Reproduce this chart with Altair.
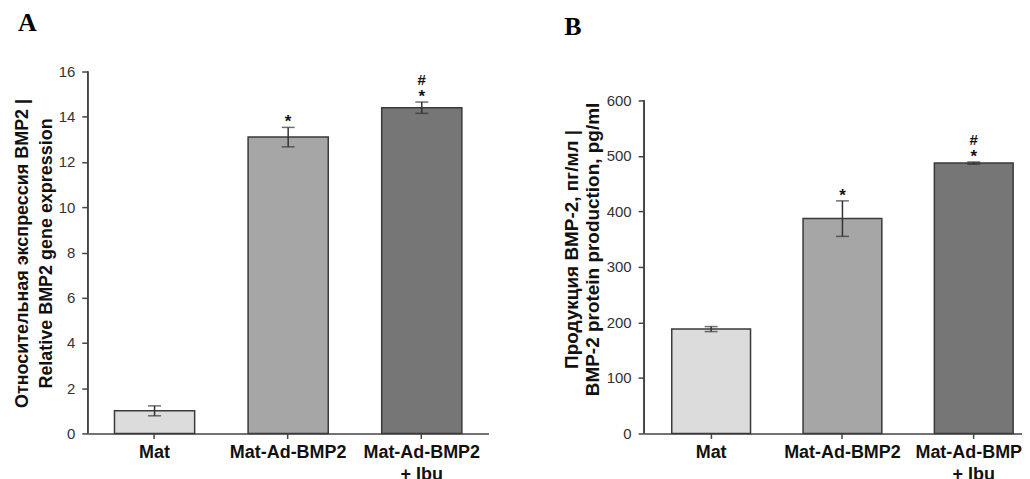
import altair as alt
import pandas as pd

categories = ["Mat", "Mat-Ad-BMP2", "Mat-Ad-BMP2 + Ibu"]
star_marks = ["", "*", "*"]
hash_marks = ["", "", "#"]

a_values = [1.0, 13.1, 14.4]
a_errors = [0.22, 0.43, 0.25]
a_colors = ["#dcdcdc", "#a6a6a6", "#767676"]
a_ticks = [0, 2, 4, 6, 8, 10, 12, 14, 16]
a_title = ["Относительная экспрессия BMP2 |", "Relative BMP2 gene expression"]

b_values = [188, 387, 487]
b_errors = [4.5, 32, 2]
b_colors = ["#dcdcdc", "#b9b9b9", "#777777"]
b_ticks = [0, 100, 200, 300, 400, 500, 600]
b_title = ["Продукция BMP-2, пг/мл |", "BMP-2 protein production, pg/ml"]

FONT = "Liberation Sans"
LABEL_EXPR = ("datum.value == 'Mat-Ad-BMP2 + Ibu' ? "
              "['Mat-Ad-BMP2', '+ Ibu'] : datum.label")


def panel(values, errors, colors, ticks, dmax, ytitle, letter, width,
          xscale, yaxis_extra, title_dx, title_offset):
    df = pd.DataFrame({
        "cat": categories,
        "val": values,
        "lo": [v - e for v, e in zip(values, errors)],
        "hi": [v + e for v, e in zip(values, errors)],
        "star": star_marks,
        "hash": hash_marks,
    })
    x = alt.X("cat:N", sort=categories,
              scale=alt.Scale(paddingInner=0.4, **xscale),
              axis=alt.Axis(title=None, labelAngle=0, labelExpr=LABEL_EXPR,
                            labelFont=FONT, labelFontSize=18,
                            labelFontWeight="bold", labelColor="#111",
                            labelLineHeight=22, labelPadding=5, tickSize=5,
                            domainColor="#444", tickColor="#444",
                            domainWidth=1.5, tickWidth=1.5))
    y = alt.Y("val:Q",
              scale=alt.Scale(domain=[0, dmax], nice=False, zero=True),
              axis=alt.Axis(values=ticks, title=ytitle, domain=False,
                            grid=False, labelFont=FONT, labelFontSize=15,
                            labelColor="#333", tickSize=6, labelPadding=7,
                            tickColor="#444", tickWidth=1.5,
                            titleFont=FONT, titleFontWeight="bold",
                            titleColor="#111", **yaxis_extra))
    base = alt.Chart(df)
    bars = base.mark_bar(stroke="#3a3a3a", strokeWidth=1.5).encode(
        x=x, y=y,
        color=alt.Color("cat:N", scale=alt.Scale(domain=categories, range=colors),
                        legend=None))
    yaxis_line = base.mark_rule(color="#444", strokeWidth=1.5).encode(
        x=alt.value(0), y=alt.datum(0), y2=alt.datum(ticks[-1]))
    err = base.mark_rule(color="#333", strokeWidth=1.5).encode(
        x=x, y="lo:Q", y2="hi:Q")
    cap_lo = base.mark_tick(color="#333", thickness=1.5, size=13).encode(x=x, y="lo:Q")
    cap_hi = base.mark_tick(color="#333", thickness=1.5, size=13).encode(x=x, y="hi:Q")
    star = base.mark_text(font=FONT, fontSize=17, fontWeight="bold", dy=-5,
                          baseline="middle", color="#111").encode(
        x=x, y="hi:Q", text="star:N")
    hsh = base.mark_text(font=FONT, fontSize=15, fontWeight="bold", dy=-22,
                         baseline="middle", color="#111").encode(
        x=x, y="hi:Q", text="hash:N")
    return alt.layer(bars, yaxis_line, err, cap_lo, cap_hi, star, hsh).properties(
        width=width, height=363,
        title=alt.TitleParams(text=letter, font="Liberation Serif", fontSize=26,
                              fontWeight="bold", anchor="start", frame="group",
                              dx=title_dx, offset=title_offset, color="#000"))


panel_a = panel(a_values, a_errors, a_colors, a_ticks, 16, a_title, "A", 402,
                {"paddingOuter": 0.2},
                {"titleY": 182, "titlePadding": 3, "titleFontSize": 18,
                 "titleLineHeight": 24},
                -70, 29)
panel_b = panel(b_values, b_errors, b_colors, b_ticks, 652, b_title, "B", 379,
                {"paddingOuter": 0.139, "align": 0.757},
                {"titleY": 178, "titlePadding": 4, "titleFontSize": 19,
                 "titleLineHeight": 21},
                -80, 32)

chart = alt.hconcat(panel_a, panel_b, spacing=73).properties(
    padding={"left": 5, "top": 1, "right": -10, "bottom": 0}
).configure_view(stroke=None)

chart.save("out.html", embed_options={"renderer": "svg", "actions": False})
